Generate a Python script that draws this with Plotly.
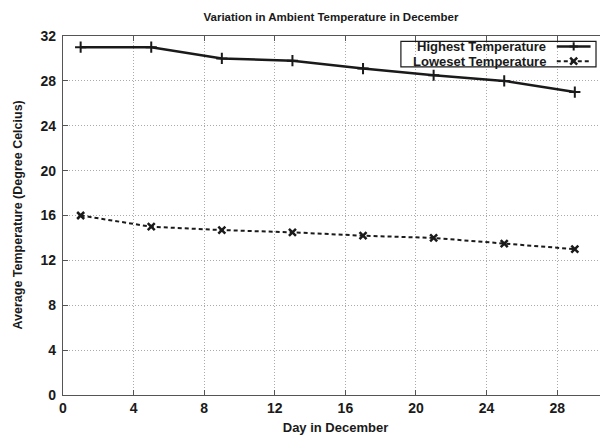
import plotly.graph_objects as go

days = [1, 5, 9, 13, 17, 21, 25, 29]
highest = [31, 31, 30, 29.8, 29.1, 28.5, 28, 27]
lowest = [16, 15, 14.7, 14.5, 14.2, 14.0, 13.5, 13]
series_names = ["Highest Temperature", "Loweset Temperature"]
x_ticks = [0, 4, 8, 12, 16, 20, 24, 28]
y_ticks = [0, 4, 8, 12, 16, 20, 24, 28, 32]

FONT = "Liberation Sans, Arial, sans-serif"
INK = "#1a1a1a"

fig = go.Figure()
fig.add_trace(go.Scatter(
    x=days, y=highest, mode="lines+markers", name=series_names[0],
    line=dict(color=INK, width=2.5),
    marker=dict(symbol="cross-thin", size=8, line=dict(color=INK, width=2)),
    showlegend=False))
fig.add_trace(go.Scatter(
    x=days, y=lowest, mode="lines+markers", name=series_names[1],
    line=dict(color=INK, width=2, dash="4px,3px"),
    marker=dict(symbol="x-thin", size=7, line=dict(color=INK, width=2.5)),
    showlegend=False))

# custom gnuplot-style key (text right-aligned, sample on the right)
sx0, sx1, smid = 0.906, 0.968, 0.937
ky = [0.971, 0.930]
fig.add_trace(go.Scatter(x=[sx0, smid, sx1], y=[ky[0]] * 3, xaxis="x2", yaxis="y2",
                         mode="lines", line=dict(color=INK, width=2.5),
                         hoverinfo="skip", showlegend=False))
fig.add_trace(go.Scatter(x=[smid], y=[ky[0]], xaxis="x2", yaxis="y2", mode="markers",
                         marker=dict(symbol="cross-thin", size=6, line=dict(color=INK, width=2)),
                         hoverinfo="skip", showlegend=False))
fig.add_trace(go.Scatter(x=[sx0, sx1], y=[ky[1]] * 2, xaxis="x2", yaxis="y2",
                         mode="lines", line=dict(color=INK, width=2, dash="4px,3px"),
                         hoverinfo="skip", showlegend=False))
fig.add_trace(go.Scatter(x=[smid], y=[ky[1]], xaxis="x2", yaxis="y2", mode="markers",
                         marker=dict(symbol="x-thin", size=7, line=dict(color=INK, width=2.5)),
                         hoverinfo="skip", showlegend=False))

for name, yy in zip(series_names, ky):
    fig.add_annotation(xref="paper", yref="paper", x=0.890, y=yy, text=f"<b>{name}</b>",
                       showarrow=False, xanchor="right", yanchor="middle",
                       font=dict(family=FONT, size=13, color=INK))
fig.add_shape(type="rect", xref="paper", yref="paper", x0=0.620, x1=0.978,
              y0=0.914, y1=0.985, line=dict(color=INK, width=1.2), fillcolor="rgba(0,0,0,0)")

# y-axis title placed as in the reference
fig.add_annotation(xref="paper", yref="paper", x=0, y=0.5, xshift=-46,
                   text="<b>Average Temperature (Degree Celcius)</b>", textangle=-90,
                   showarrow=False, xanchor="center", yanchor="middle",
                   font=dict(family=FONT, size=12.5, color=INK))

axis_common = dict(showline=True, linecolor="#555", linewidth=1.2, ticks="inside",
                   ticklen=5, tickcolor="#555", showgrid=True, gridcolor="#aaa",
                   griddash="1px,2px", gridwidth=1, zeroline=False, mirror="ticks",
                   tickfont=dict(family=FONT, size=14, color=INK))

# page body has an 8px margin: figure occupies (8,8)-(608,436)
fig.update_layout(
    width=600, height=428,
    margin=dict(l=55, r=0, t=28, b=41),
    paper_bgcolor="white", plot_bgcolor="white",
    title=dict(text="<b>Variation in Ambient Temperature in December</b>",
               x=(331 - 8) / 600, xanchor="center", y=1 - 9 / 428, yanchor="middle",
               font=dict(family=FONT, size=11.5, color=INK)),
    xaxis=dict(range=[0, 30.88], tickvals=x_ticks,
               ticktext=[f"<b>{v}</b>" for v in x_ticks],
               title=dict(text="<b>Day in December</b>", standoff=7,
                          font=dict(family=FONT, size=13, color=INK)),
               **axis_common),
    yaxis=dict(range=[0, 32], tickvals=y_ticks, ticklabelstandoff=3,
               ticktext=[f"<b>{v}</b>" for v in y_ticks],
               **axis_common),
    xaxis2=dict(overlaying="x", range=[0, 1], visible=False),
    yaxis2=dict(overlaying="y", range=[0, 1], visible=False),
    showlegend=False,
)

fig.write_html("out.html")
